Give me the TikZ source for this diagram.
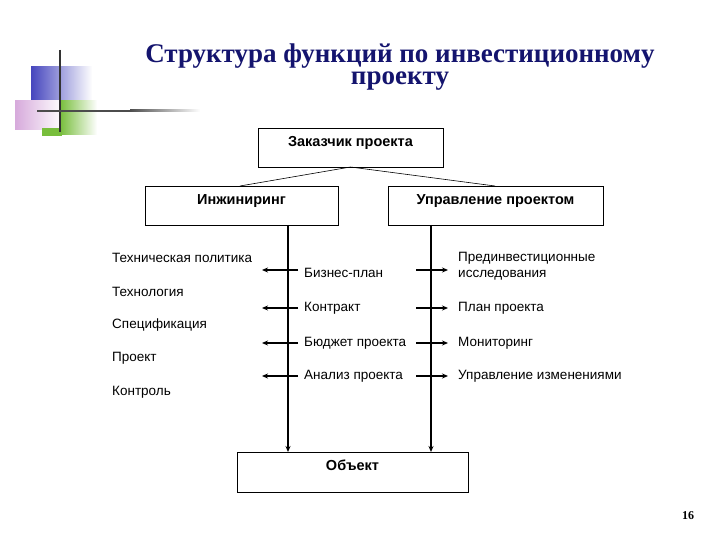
\documentclass[tikz,border=0pt]{standalone}
\usepackage{fontspec}
\setmainfont{Liberation Sans}
\newfontfamily\serifb{Liberation Serif}
\definecolor{navy}{RGB}{20,20,110}
\definecolor{sqblue}{RGB}{70,70,190}
\definecolor{sqgreen}{RGB}{120,190,60}
\definecolor{sqpink}{RGB}{215,170,220}
\tikzset{
  box/.style={draw,line width=0.6pt,inner sep=0pt},
  btxt/.style={font=\bfseries\fontsize{14.5}{17}\selectfont},
  ttl/.style={text=navy,inner sep=0pt,font=\serifb\bfseries\fontsize{27}{30}\selectfont},
  lbl/.style={anchor=west,inner sep=0pt,font=\fontsize{13.5}{16}\selectfont,align=left},
  arr/.style={line width=1.2pt,-{Stealth[length=6pt,width=5pt]}},
}
\usetikzlibrary{arrows.meta,fadings}
\begin{document}
\begin{tikzpicture}[x=1pt,y=-1pt]
\useasboundingbox (0,0) rectangle (720,540);
\fill[white] (0,0) rectangle (720,540);
% decoration
\fill[sqpink,path fading=east] (15,100) rectangle (62,130);
\fill[sqblue,path fading=east] (31,66) rectangle (92,100);
\fill[sqgreen,path fading=east] (60,100) rectangle (97,135);
\fill[sqgreen] (42,128) rectangle (62,136);
\draw[line width=2pt,black!80] (60,50) -- (60,132);
\draw[line width=2pt,black!70] (37,111) -- (130,111);
\shade[left color=black!70,right color=white] (130,110) rectangle (200,112);
% title
\node (title1) [ttl] at (400,56) {Структура функций по инвестиционному};
\node (title2) [ttl] at (400,81) {проекту};
% boxes
\node (zak) [box,minimum width=185pt,minimum height=39pt] at (350.5,147.5) {};
\node[btxt] at (350.5,143) {Заказчик проекта};
\node (ing) [box,minimum width=193pt,minimum height=39pt] at (241.5,205.5) {};
\node[btxt] at (241.5,201) {Инжиниринг};
\node (upr) [box,minimum width=215pt,minimum height=39pt] at (495.5,205.5) {};
\node[btxt] at (495.5,201) {Управление проектом};
\node (obj) [box,minimum width=231pt,minimum height=40pt] at (352.5,472) {};
\node[btxt] at (352.5,465) {Объект};
\coordinate (zb) at (350.5,167);
\draw[line width=0.6pt] (zb) -- (240,186);
\draw[line width=0.6pt] (zb) -- (495,186);
% verticals
\coordinate (vl1) at (288,225); \coordinate (vl2) at (288,452);
\coordinate (vr1) at (431,225); \coordinate (vr2) at (431,452);
\draw[arr] (vl1) -- (vl2);
\draw[arr] (vr1) -- (vr2);
% left labels
\node (l1) [lbl] at (112,258) {Техническая политика};
\node (l2) [lbl] at (112,292) {Технология};
\node (l3) [lbl] at (112,325) {Спецификация};
\node (l4) [lbl] at (112,358) {Проект};
\node (l5) [lbl] at (112,392) {Контроль};
% middle
\node (m1) [lbl] at (304,273) {Бизнес-план};
\node (m2) [lbl] at (304,308) {Контракт};
\node (m3) [lbl] at (304,343) {Бюджет проекта};
\node (m4) [lbl] at (304,376) {Анализ проекта};
% right
\node (r1) [lbl] at (458,266) {Прединвестиционные\\исследования};
\node (r2) [lbl] at (458,308) {План проекта};
\node (r3) [lbl] at (458,343) {Мониторинг};
\node (r4) [lbl] at (458,376) {Управление изменениями};
\foreach \y/\n in {270/a,308/b,343/c,376/d}{
  \coordinate (la\n) at (298,\y); \coordinate (lb\n) at (262,\y);
  \draw[arr] (la\n) -- (lb\n);
  \coordinate (ra\n) at (416,\y); \coordinate (rb\n) at (448,\y);
  \draw[arr] (ra\n) -- (rb\n);
}
\node (pg) [font=\serifb\bfseries\fontsize{12}{14}\selectfont] at (688,516) {16};
\end{tikzpicture}
\end{document}
